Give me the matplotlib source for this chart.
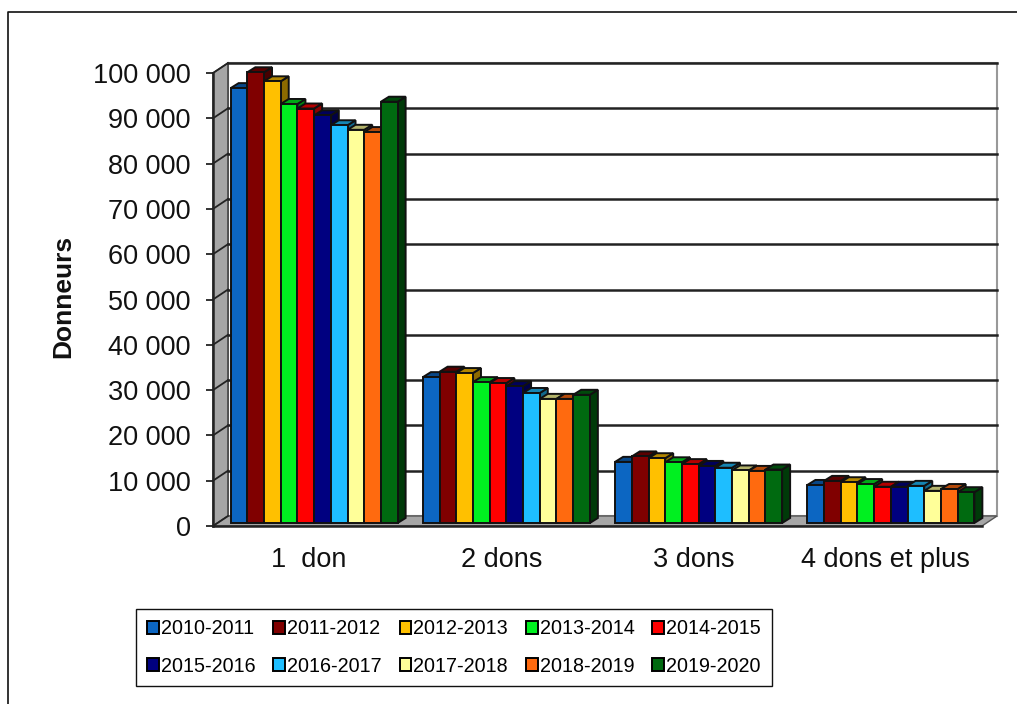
import numpy as np
import matplotlib
matplotlib.use("Agg")
import matplotlib.pyplot as plt
from matplotlib.colors import to_rgb
from matplotlib.lines import Line2D
from matplotlib.patches import Patch, Polygon

W, H = 1017, 704

categories = ["1  don", "2 dons", "3 dons", "4 dons et plus"]
seasons = ["2010-2011", "2011-2012", "2012-2013", "2013-2014", "2014-2015",
           "2015-2016", "2016-2017", "2017-2018", "2018-2019", "2019-2020"]
colors = ["#0C66C2", "#800000", "#FFC000", "#00F020", "#FF0000",
          "#000080", "#1EBEFF", "#FFFF99", "#FF6A0F", "#006A10"]

don1 = [96000, 99500, 97500, 92500, 91500, 90000, 87800, 86800, 86300, 93000]
don2 = [32200, 33400, 33100, 31100, 30900, 30200, 28700, 27400, 27400, 28300]
don3 = [13500, 14700, 14300, 13400, 13000, 12600, 12200, 11600, 11500, 11800]
don4 = [8400, 9300, 9000, 8600, 8000, 8000, 8200, 7100, 7500, 6800]
values = [don1, don2, don3, don4]

yticks = list(range(0, 100001, 10000))
ytick_labels = ["0", "10 000", "20 000", "30 000", "40 000", "50 000",
                "60 000", "70 000", "80 000", "90 000", "100 000"]

plt.rcParams["font.family"] = ["Liberation Sans", "DejaVu Sans"]

fig = plt.figure(figsize=(W / 100, H / 100), dpi=100)

# cadre de l'image
fig.add_artist(Line2D([8 / W, 8 / W, 1], [0, 1 - 12 / H, 1 - 12 / H], color="#111111", lw=1.2))

left, right, bottom, top = 213, 982, 526, 73
ax = fig.add_axes([left / W, 1 - bottom / H, (right - left) / W, (bottom - top) / H])
ax.set_xlim(0, 4)
ax.set_ylim(0, 100000)
ax.patch.set_visible(False)

# pixels -> unites des donnees
px_x = 4 / (right - left)
px_y = 100000 / (bottom - top)


def shifted(x, y, dx, dy):
    return (x + dx * px_x, y + dy * px_y)


def poly(points, face, edge="#111111", lw=1.0, z=1):
    ax.add_patch(Polygon(points, closed=True, facecolor=face, edgecolor=edge,
                         linewidth=lw, zorder=z, clip_on=False))


def darker(c, k):
    return tuple(v * k for v in to_rgb(c))


# profondeur du decor
DX, DY = 15, 10

# mur du fond, cote gauche, sol
poly([shifted(0, 0, DX, DY), shifted(4, 0, DX, DY), shifted(4, 100000, DX, DY),
      shifted(0, 100000, DX, DY)], "white", edge="#999999", lw=1.5, z=0.5)
poly([(0, 0), shifted(0, 0, DX, DY), shifted(0, 100000, DX, DY), (0, 100000)],
     "#A6A6A6", edge="#333333", z=1)
poly([(0, 0), (4, 0), shifted(4, 0, DX, DY), shifted(0, 0, DX, DY)],
     "#A6A6A6", edge="#555555", z=1)

for t in yticks[1:]:
    x0, y0 = shifted(0, t, DX, DY)
    x1, y1 = shifted(4, t, DX, DY)
    ax.plot([x0, x1], [y0, y1], color="#222222", lw=1.8, zorder=1.5, clip_on=False)
    ax.plot([0, x0], [t, y0], color="#222222", lw=1.3, zorder=1.5, clip_on=False)
x0, y0 = shifted(0, 0, DX, DY)
ax.plot([0, x0], [0, y0], color="#222222", lw=1.3, zorder=1.5, clip_on=False)

# barres 3D
n = len(seasons)
bar_w = 16.7 * px_x
group_w = bar_w * n
BX, BY = 5, 3     # decalage face avant
SX, SY = 8, 5     # profondeur barre
for g, vals in enumerate(values):
    start = g + 0.5 - group_w / 2
    for i, v in enumerate(vals):
        xa = start + i * bar_w
        xb = xa + bar_w
        a0 = shifted(xa, 0, BX, BY)
        b0 = shifted(xb, 0, BX, BY)
        a1 = shifted(xa, v, BX, BY)
        b1 = shifted(xb, v, BX, BY)
        z = 3 + i * 0.01
        c = colors[i]
        poly([b0, shifted(*b0, SX, SY), shifted(*b1, SX, SY), b1], darker(c, 0.55), lw=1.4, z=z)
        poly([a1, b1, shifted(*b1, SX, SY), shifted(*a1, SX, SY)], darker(c, 0.7), lw=1.4, z=z)
        poly([a0, b0, b1, a1], c, lw=1.4, z=z)

ax.set_yticks(yticks)
ax.set_yticklabels(ytick_labels, fontsize=19.5, color="#111111")
ax.set_xticks([0.5, 1.5, 2.5, 3.5])
ax.set_xticklabels(categories, fontsize=19.5, color="#111111")
ax.tick_params(axis="x", length=0, pad=15)
ax.tick_params(axis="y", length=5, width=1.2, pad=11, color="#111111")
for name in ["top", "right"]:
    ax.spines[name].set_visible(False)
for name in ["left", "bottom"]:
    ax.spines[name].set_linewidth(1.8)
    ax.spines[name].set_color("#222222")

fig.text(63 / W, 1 - 296 / H, "Donneurs", rotation=90, fontsize=19, fontweight="bold",
         ha="center", va="center", color="#111111")

# legende remplie par colonnes : on reordonne pour lire ligne par ligne
order = [j for i in range(5) for j in (i, i + 5)]
handles = [Patch(facecolor=colors[i], edgecolor="black", linewidth=1.4) for i in order]
labels = [seasons[i] for i in order]
fig.legend(handles, labels, ncols=5, loc="center",
           bbox_to_anchor=(454 / W, 1 - 647.5 / H), frameon=True, fancybox=False,
           edgecolor="#111111", framealpha=1, fontsize=14.2,
           handlelength=0.6, handleheight=0.6, handletextpad=0.1,
           columnspacing=0.9, labelspacing=0.92, borderpad=0.55, borderaxespad=0)

fig.savefig("out.png", dpi=100)
